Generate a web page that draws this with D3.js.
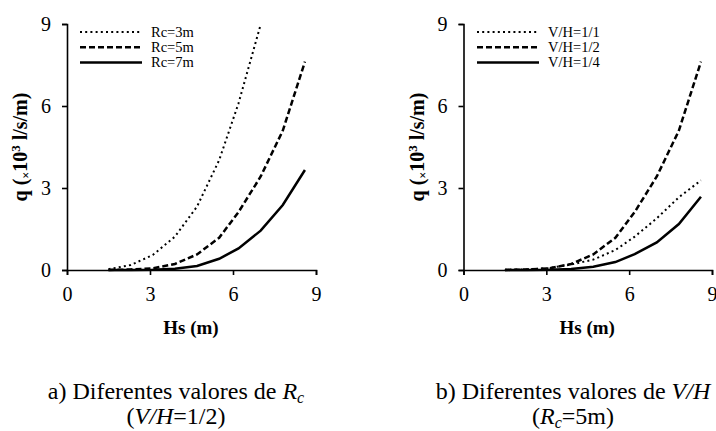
<!DOCTYPE html>
<html><head><meta charset="utf-8">
<script src="https://cdn.jsdelivr.net/npm/d3@7"></script>
<style>body{margin:0;background:#fff}svg{display:block}text{font-family:"Liberation Serif","Times New Roman",serif;fill:#000}</style>
</head><body>
<svg id="c" width="716" height="431"></svg>
<script>
const hs = [1.5, 2.3, 3.1, 3.9, 4.7, 5.5, 6.2, 7.0, 7.8, 8.6];
const xTicks = [0, 3, 6, 9];
const yTicks = [0, 3, 6, 9];
// panel a) different Rc (V/H = 1/2)
const rc3 = [0.03, 0.18, 0.55, 1.22, 2.32, 4.02, 6.1, 8.98];
const rc5 = [0.0, 0.02, 0.06, 0.22, 0.57, 1.18, 2.12, 3.42, 5.1, 7.62];
const rc7 = [0.0, 0.0, 0.01, 0.05, 0.15, 0.41, 0.79, 1.44, 2.38, 3.66];
// panel b) different V/H (Rc = 5m)
const vh11 = [0.01, 0.02, 0.07, 0.2, 0.38, 0.73, 1.22, 1.89, 2.66, 3.28];
const vh12 = [0.0, 0.02, 0.06, 0.22, 0.57, 1.18, 2.12, 3.42, 5.1, 7.62];
const vh14 = [0.0, 0.0, 0.01, 0.04, 0.12, 0.29, 0.58, 1.01, 1.68, 2.68];
const namesA = ["Rc=3m", "Rc=5m", "Rc=7m"];
const namesB = ["V/H=1/1", "V/H=1/2", "V/H=1/4"];

const styles = [
  {dash: "2,3.2", width: 2},
  {dash: "6,3", width: 2.5},
  {dash: null, width: 2.5}
];

const svg = d3.select("#c");

function panel(x0, x1, series, names, legX) {
  const x = d3.scaleLinear().domain([0, 9]).range([x0, x1]);
  const y = d3.scaleLinear().domain([0, 9]).range([270, 24]);
  const g = svg.append("g");
  const xa = g.append("g").attr("transform", "translate(0,270)")
    .call(d3.axisBottom(x).tickValues(xTicks).tickSize(5).tickPadding(11.5).tickFormat(d3.format("d")));
  const ya = g.append("g").attr("transform", `translate(${x0},0)`)
    .call(d3.axisLeft(y).tickValues(yTicks).tickSize(5).tickPadding(11).tickFormat(d3.format("d")));
  [xa, ya].forEach(a => {
    a.select(".domain").attr("stroke", "#000").attr("stroke-width", 1.6);
    a.selectAll(".tick line").attr("stroke", "#000").attr("stroke-width", 1.6);
    a.selectAll("text").style("font-family", '"Liberation Serif",serif').style("font-size", "20px").attr("fill", "#000");
  });
  const line = d3.line().x((d, i) => x(hs[i])).y(d => y(d));
  series.forEach((s, k) => {
    g.append("path").datum(s).attr("d", line).attr("fill", "none").attr("stroke", "#000")
      .attr("stroke-width", styles[k].width).attr("stroke-dasharray", styles[k].dash);
  });
  names.forEach((n, k) => {
    const yy = 32 + k * 15.2;
    g.append("line").attr("x1", legX).attr("x2", legX + 62).attr("y1", yy).attr("y2", yy)
      .attr("stroke", "#000").attr("stroke-width", styles[k].width).attr("stroke-dasharray", styles[k].dash);
    g.append("text").attr("x", legX + 71).attr("y", yy + 4.5).style("font-size", "14.5px").text(n);
  });
  // y label
  const yl = g.append("text").attr("transform", `translate(${x0 - 40},147) rotate(-90)`)
    .attr("text-anchor", "middle").style("font-weight", "bold").style("font-size", "20px");
  yl.append("tspan").text("q (");
  yl.append("tspan").text("×").style("font-size", "12px").attr("dy", 3);
  yl.append("tspan").text("10").attr("dy", -3);
  yl.append("tspan").text("3").style("font-size", "13px").attr("dy", -7);
  yl.append("tspan").text(" l/s/m)").attr("dy", 7);
  // x label
  g.append("text").attr("x", (x0 + x1) / 2 - 0.5).attr("y", 334).attr("text-anchor", "middle")
    .style("font-weight", "bold").style("font-size", "19px").text("Hs (m)");
  return g;
}

panel(67, 316, [rc3, rc5, rc7], namesA, 80);
panel(463.5, 712, [vh11, vh12, vh14], namesB, 477);

// captions
function cap(cx, yy, parts, anchor) {
  const t = svg.append("text").attr("x", cx).attr("y", yy).attr("text-anchor", anchor || "middle").style("font-size", "24px");
  parts.forEach(p => {
    const s = t.append("tspan").text(p.t);
    if (p.i) s.style("font-style", "italic");
    if (p.sub) s.style("font-size", "16px").attr("dy", 4);
    if (p.back) s.attr("dy", -4);
  });
}
cap(176, 399, [{t: "a) Diferentes valores de "}, {t: "R", i: 1}, {t: "c", i: 1, sub: 1}]);
cap(176, 424, [{t: "("}, {t: "V/H", i: 1}, {t: "=1/2)"}]);
cap(573, 399, [{t: "b) Diferentes valores de "}, {t: "V/H", i: 1}]);
cap(573, 424, [{t: "("}, {t: "R", i: 1}, {t: "c", i: 1, sub: 1}, {t: "=5m)", back: 1}]);
</script>
</body></html>
